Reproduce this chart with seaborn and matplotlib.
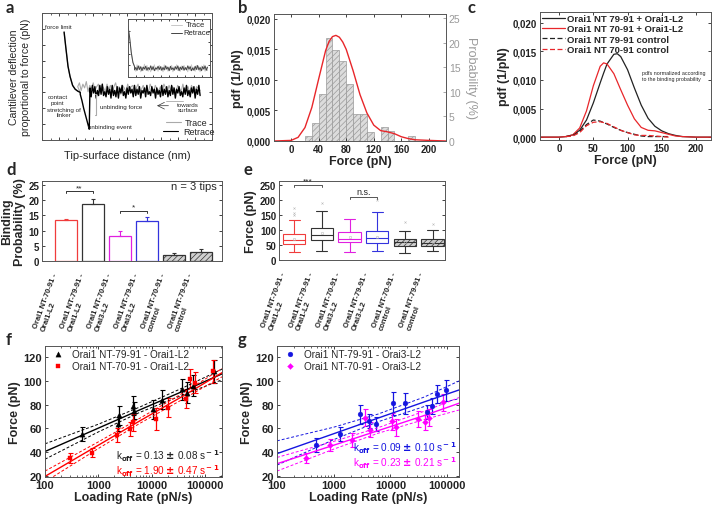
import numpy as np
import matplotlib
matplotlib.use("Agg")
import matplotlib.pyplot as plt
from matplotlib.ticker import FuncFormatter, NullFormatter, LogLocator
import seaborn as sns

sns.set_theme(style="ticks")
plt.rcParams['font.family'] = ['Liberation Sans', 'DejaVu Sans']
plt.rcParams['font.weight'] = 'bold'
plt.rcParams['axes.labelweight'] = 'bold'
plt.rcParams['hatch.linewidth'] = 0.5

# ---------------- data ----------------
# a: schematic force cycle (axis %)
a_desc_x = [13, 14, 15.3, 16.5, 18, 19.5, 21, 22.5]
a_desc_y = [85, 73, 58, 50, 43, 40, 38.5, 37.5]
a_dip_x = [22.5, 23.5, 24.5, 25.5, 26.5, 27.3, 27.8]
a_dip_y = [36, 31, 25, 20, 15, 11, 8.5]
a_base = 38
a_ret_noise = [3, -4, 5, -1, 4, -5, 1, -3, 5, -2, 6, -3, 0, -4, 4, -2, 2, -5, 5, -3, 1, -4, 4, -5,
               3, -1, 5, -3, 0, -5, 3, -2, 4, -1, 2, -4, 5, -3, 2, -2, 4, -5, 1, -1, 3, -4, 5, -2,
               0, -3, 4, -1, 2, -5, 3, -2, 1, -4, 5, -3, 2, -2, 4, -4, 1, -3, 5, -2, 3, -5, 2, -1,
               4, -3, 0, -4, 3, -2, 5, -3, 1, -4, 3, -1, 4, -5, 2, -2, 5, -3]
a_trace_noise = [2, 5, -1, 4, 1, 6, -2, 3, 0, 5, -1, 2, 4, -3, 3, 1, -2, 4, 0, 3, -3, 2, 5, -1,
                 2, -4, 3, 1, -2, 4, -1, 2, 3, -3, 1, 4, -2, 0, 3, -1, 2, -3, 4, 1, -2, 3, 0, -1,
                 2, -3, 4, 1, -2, 3, -1, 2, 0, -3, 3, 1, -2, 4, -1, 1, 2, -3, 3, 0, -2, 2, 1, -1]
ins_desc_x = [0, 2, 4, 6, 8]
ins_desc_y = [88, 68, 42, 25, 18]
ins_noise = [3, -5, 6, -2, 4, -6, 2, -4, 7, -3, 5, -5, 1, -6, 4, -2, 6, -4, 2, -5, 5, -3, 3, -6,
             6, -2, 4, -5, 1, -3, 5, -6, 3, -2, 6, -4, 2, -5, 4, -3, 5, -2, 1, -6, 4, -4, 6, -3,
             2, -5, 5, -2, 3, -6, 4, -3, 6, -5, 2, -4]

# b: histogram (probability %) and pdf fit
b_bin_left = [20, 30, 40, 50, 60, 70, 80, 90, 100, 110, 120, 130, 140, 150, 160, 170]
b_prob = [1.0, 3.6, 9.5, 21.0, 18.5, 16.3, 11.6, 5.5, 5.5, 1.8, 0.0, 2.8, 2.0, 0.0, 0.0, 1.0]
b_fit_x = [-25, 0, 10, 20, 30, 40, 50, 55, 60, 65, 70, 75, 80, 90, 100, 110, 120, 130, 140, 150,
           160, 170, 180, 200, 225]
b_fit_y = [0, 0.0001, 0.0006, 0.0022, 0.0055, 0.0102, 0.0148, 0.0163, 0.0171, 0.0173, 0.0170,
           0.0162, 0.0150, 0.0115, 0.0076, 0.0046, 0.0026, 0.0017, 0.0015, 0.0012, 0.0007, 0.0004,
           0.0002, 0.0001, 0]

# c: normalized pdfs
c_x = [-30, 0, 10, 20, 30, 40, 50, 60, 65, 70, 80, 85, 90, 100, 110, 120, 130, 140, 150, 160,
       170, 180, 200, 225]
c_79 = [0, 0, 0.0001, 0.0004, 0.0012, 0.0030, 0.0060, 0.0095, 0.0112, 0.0128, 0.0145, 0.0146,
        0.0141, 0.0118, 0.0086, 0.0056, 0.0033, 0.0019, 0.0011, 0.0006, 0.0003, 0.0001, 0, 0]
c_70 = [0, 0, 0.0001, 0.0004, 0.0016, 0.0046, 0.0090, 0.0124, 0.0130, 0.0128, 0.0111, 0.0097,
        0.0083, 0.0056, 0.0032, 0.0017, 0.0012, 0.0011, 0.0008, 0.0005, 0.0002, 0.0001, 0, 0]
c_ctrl_x = [10, 20, 30, 40, 50, 60, 70, 80, 90, 100, 110, 120, 130, 140, 150, 160]
c_79_ctrl = [0.0001, 0.0003, 0.0010, 0.0022, 0.0030, 0.0028, 0.0023, 0.0017, 0.0012, 0.0008,
             0.0005, 0.0002, 0.0001, 0.0001, 0.0001, 0.0001]
c_70_ctrl = [0.0001, 0.0002, 0.0008, 0.0020, 0.0026, 0.0027, 0.0024, 0.0018, 0.0012, 0.0008,
             0.0004, 0.0003, 0.0003, 0.0002, 0.0001, 0.0]

# d: binding probability
groups = ["Orai1 NT-70-91 -\nOrai1-L2", "Orai1 NT-79-91 -\nOrai1-L2",
          "Orai1 NT-70-91 -\nOrai3-L2", "Orai1 NT-79-91 -\nOrai3-L2",
          "Orai1 NT-70-91 -\ncontrol", "Orai1 NT-79-91 -\ncontrol"]
d_prob = [13.5, 18.7, 8.1, 13.0, 2.1, 3.0]
d_err = [0.3, 1.6, 1.6, 1.6, 0.6, 0.8]
group_colors = ['#f03c3c', '#333333', '#e020e0', '#3333dd', '#333333', '#333333']

# e: box statistics (pN)
e_whislo = [27, 29, 27, 29, 23, 31]
e_q1 = [54, 68, 60, 56, 46, 47]
e_med = [66, 85, 72, 73, 60, 57]
e_q3 = [88, 108, 94, 96, 69, 69]
e_whishi = [135, 165, 138, 160, 98, 99]
e_mean = [72, 90, 76, 78, 60, 59]
e_fliers = [[150, 158, 175], [192], [], [200], [128], [122]]

# f: dynamic force spectroscopy Orai1-L2
f_79_x = [500, 2300, 2500, 4400, 4700, 10500, 15500, 38000, 46000, 60000, 150000]
f_79_y = [55.5, 64, 71, 79, 75, 76, 84, 93, 90, 96, 108]
f_79_e = [6, 6, 8, 8, 7, 8, 8, 9, 9, 9, 10]
f_70_x = [300, 750, 2200, 3900, 4500, 12000, 20500, 45000, 52000, 65000, 140000]
f_70_y = [35, 39.5, 54.5, 59.5, 65, 68, 77.5, 85, 102, 98.5, 108]
f_70_e = [4, 4, 6, 6, 7, 9, 8, 8, 8, 9, 10]
f_fit_x = [100, 1000, 6000, 40000, 210000]
f_79_fit = [40.5, 60.2, 75.6, 91.6, 106]
f_79_lo = [34, 57, 73.5, 88.5, 101]
f_79_hi = [47, 63.5, 78, 94.5, 110]
f_70_fit = [19.5, 45.8, 66.3, 87.6, 107]
f_70_lo = [15, 43, 64.2, 85, 103.5]
f_70_hi = [24, 48.6, 68.5, 90.2, 110.5]

# g: dynamic force spectroscopy Orai3-L2
g_79_x = [480, 1290, 2870, 4150, 5560, 11200, 18200, 44700, 55000, 67700, 95000]
g_79_y = [46, 55, 72, 66, 63.5, 81, 81, 74, 79, 89, 92]
g_79_e = [6, 6, 8, 6, 6, 10, 9, 6, 7, 8, 9]
g_70_x = [325, 860, 2130, 3600, 4400, 10500, 12600, 31000, 41000, 49000, 85000]
g_70_y = [35, 46, 50, 69, 59, 66, 61, 68, 65, 69, 82]
g_70_e = [4, 5, 6, 7, 6, 7, 7, 7, 6, 7, 7]
g_fit_x = [100, 1000, 6000, 40000, 163000]
g_79_fit = [38.7, 55.5, 68.6, 82.4, 92.4]
g_79_lo = [29, 50.5, 65.5, 78.5, 85]
g_79_hi = [49.5, 61, 72, 86.5, 100]
g_70_fit = [30.2, 45.8, 58.0, 70.9, 81.2]
g_70_lo = [24, 42.5, 55.8, 67.5, 75.5]
g_70_hi = [35.5, 49, 60.5, 74.5, 86]

# ---------------- figure ----------------
W, H = 713, 506
fig = plt.figure(figsize=(W / 100, H / 100), dpi=100)


def box(l, t, r, b):
    return fig.add_axes([l / W, 1 - b / H, (r - l) / W, (b - t) / H])


def style(ax, size=7):
    ax.tick_params(direction='in', length=2.5, width=0.6, top=True, right=True,
                   labelsize=size, pad=2, colors='#222222')
    ax.tick_params(which='minor', direction='in', length=1.5, width=0.5, top=True, right=True)
    for s in ax.spines.values():
        s.set_linewidth(0.7)
        s.set_color('#555555')


comma = FuncFormatter(lambda v, p: f"{v:.3f}".replace('.', ','))


def panel_label(x, y, s):
    fig.text(x / W, 1 - y / H, s, fontsize=12, fontweight='bold', family=['Lato', 'DejaVu Sans'],
             va='top', ha='left')


# ---- a ----
ax = box(42, 14, 212, 141)
style(ax)
ax.set_xlim(0, 100)
ax.set_ylim(0, 100)
ax.set_xticks(np.arange(0, 101, 10))
ax.set_xticks(np.arange(0, 101, 5), minor=True)
ax.set_yticks(np.arange(0, 101, 12.5))
ax.xaxis.set_major_formatter(NullFormatter())
ax.yaxis.set_major_formatter(NullFormatter())
tx = np.linspace(21, 93, len(a_trace_noise))
ax.plot(a_desc_x + list(tx), a_desc_y + [a_base + 2 + v for v in a_trace_noise],
        color='#aaaaaa', lw=0.8)
rx = np.linspace(28.2, 93, len(a_ret_noise))
ax.plot(a_desc_x + a_dip_x + list(rx), a_desc_y + a_dip_y + [a_base + v for v in a_ret_noise],
        color='black', lw=1.0)
ax.plot([31, 32, 32, 31], [36, 36, 20, 20], color='#aaaaaa', lw=0.8)
ax.plot([73, 83], [30.5, 30.5], color='#aaaaaa', lw=0.6)
ax.text(1.8, 89, 'force limit', fontsize=4.5, fontweight='normal', va='center')
ax.text(15, 32, 'contact\npoint', fontsize=4.5, fontweight='normal', va='center', ha='right',
        multialignment='center')
ax.text(13, 22, 'stretching of\nlinker', fontsize=4.5, fontweight='normal', va='center',
        ha='center', multialignment='center')
ax.text(40, 11, 'unbinding event', fontsize=4.5, fontweight='normal', va='center', ha='center')
ax.text(34, 26, 'unbinding force', fontsize=4.5, fontweight='normal', va='center')
ax.text(86, 26, 'towards\nsurface', fontsize=4.5, fontweight='normal', va='center', ha='center',
        multialignment='center')
ax.annotate('', xy=(66, 27), xytext=(76, 27),
            arrowprops=dict(arrowstyle='->', lw=0.5, color='#333333'))
ax.plot([73, 82], [14, 14], color='#aaaaaa', lw=0.8)
ax.text(84, 14, 'Trace', fontsize=6.5, fontweight='normal', va='center')
ax.plot([71, 80], [7, 7], color='black', lw=0.8)
ax.text(83, 7, 'Retrace', fontsize=6.5, fontweight='normal', va='center')
ax.set_xlabel('Tip-surface distance (nm)', fontsize=8, fontweight='normal', labelpad=4)
ax.set_ylabel('Cantilever deflection\nproportional to force (pN)', fontsize=7.6,
              fontweight='normal', labelpad=6)

ins = box(128, 20, 210, 78)
style(ins)
ins.tick_params(length=1.5)
ins.set_xlim(0, 100)
ins.set_ylim(0, 100)
ins.set_xticks(np.arange(0, 101, 10))
ins.set_yticks(np.arange(0, 101, 20))
ins.xaxis.set_major_formatter(NullFormatter())
ins.yaxis.set_major_formatter(NullFormatter())
nx = np.linspace(8, 97, len(ins_noise))
ins.plot(ins_desc_x + list(nx), ins_desc_y + [15 + v for v in ins_noise], color='#c8c8c8', lw=0.7)
ins.plot(ins_desc_x + list(nx), ins_desc_y + [15 + 0.7 * v for v in ins_noise[::-1]],
         color='#444444', lw=0.7)
ins.plot([52, 66], [90, 90], color='#c8c8c8', lw=0.7)
ins.text(70, 90, 'Trace', fontsize=5.5, fontweight='normal', va='center')
ins.plot([52, 66], [76, 76], color='#444444', lw=0.7)
ins.text(68, 76, 'Retrace', fontsize=5.5, fontweight='normal', va='center')

# ---- b ----
ax = box(274, 15, 446, 142)
ax2 = ax.twinx()
style(ax)
ax.tick_params(right=False)
ax2.bar(b_bin_left, b_prob, width=10, align='edge', facecolor='#dcdcdc',
        edgecolor='#9a9a9a', hatch='//////', lw=0.5)
sns.lineplot(x=b_fit_x, y=b_fit_y, ax=ax, color='#e8262a', lw=1.0)
ax.set_zorder(ax2.get_zorder() + 1)
ax.patch.set_visible(False)
ax.set_xlim(-25, 225)
ax.set_ylim(0, 0.0208)
ax2.set_ylim(0, 25.8)
ax.set_xticks(np.arange(0, 201, 40))
ax.set_yticks([0, 0.005, 0.01, 0.015, 0.02])
ax.yaxis.set_major_formatter(comma)
ax2.set_yticks(np.arange(0, 26, 5))
ax2.tick_params(direction='in', length=2.5, width=0.6, labelsize=7.5, colors='#999999', pad=2)
for lab in ax2.get_yticklabels():
    lab.set_fontweight('normal')
for s in ax2.spines.values():
    s.set_visible(False)
ax.set_xlabel('Force (pN)', fontsize=9, labelpad=1)
ax.set_ylabel('pdf (1/pN)', fontsize=9, labelpad=2)
ax2.set_ylabel('Probability (%)', fontsize=9, fontweight='normal', color='#999999',
               rotation=270, labelpad=12)

# ---- c ----
ax = box(540, 13, 711, 141)
style(ax)
sns.lineplot(x=c_x, y=c_79, ax=ax, color='#222222', lw=0.9, label='Orai1 NT 79-91 + Orai1-L2')
sns.lineplot(x=c_x, y=c_70, ax=ax, color='#e8262a', lw=0.9, label='Orai1 NT 70-91 + Orai1-L2')
ax.plot(c_ctrl_x, c_79_ctrl, color='#222222', lw=0.9, ls=(0, (4, 2)),
        label='Orai1 NT 79-91 control')
ax.plot(c_ctrl_x, c_70_ctrl, color='#e8262a', lw=0.9, ls=(0, (4, 2)),
        label='Orai1 NT 70-91 control')
ax.set_xlim(-28, 222)
ax.set_ylim(-0.0005, 0.0219)
ax.set_xticks(np.arange(0, 201, 50))
ax.set_yticks([0, 0.005, 0.01, 0.015, 0.02])
ax.yaxis.set_major_formatter(comma)
ax.legend(loc='upper left', frameon=False, fontsize=6.8, handlelength=2.4, handletextpad=0.3,
          labelspacing=0.15, borderaxespad=0.1, borderpad=0.1)
ax.text(121, 0.0108, 'pdfs normalized according\nto the binding probability', fontsize=3.9,
        fontweight='normal', va='center')
ax.set_xlabel('Force (pN)', fontsize=9, labelpad=1)
ax.set_ylabel('pdf (1/pN)', fontsize=9, labelpad=2)

# ---- d ----
ax = box(42, 182, 222, 262)
style(ax)
pos = np.arange(len(groups))
for i in pos:
    hatched = i >= 4
    ax.bar(i, d_prob[i], width=0.8, facecolor='#d0d0d0' if hatched else 'white',
           edgecolor=group_colors[i], hatch='//////' if hatched else None, lw=0.9)
    ax.errorbar(i, d_prob[i], yerr=[[0], [d_err[i]]], color=group_colors[i], capsize=1.5,
                lw=0.8, capthick=0.8)
ax.plot([0, 0, 1, 1], [22.3, 22.9, 22.9, 22.3], color='#333333', lw=0.7)
ax.text(0.5, 23.0, '**', ha='center', va='bottom', fontsize=6, fontweight='normal')
ax.plot([2, 2, 3, 3], [15.8, 16.4, 16.4, 15.8], color='#333333', lw=0.7)
ax.text(2.5, 16.5, '*', ha='center', va='bottom', fontsize=6, fontweight='normal')
ax.text(5.6, 24.5, 'n = 3 tips', ha='right', va='center', fontsize=8, fontweight='normal')
ax.set_xlim(-0.89, 5.78)
ax.set_ylim(0, 26.3)
ax.set_yticks(np.arange(0, 26, 5))
ax.set_xticks(pos)
ax.set_xticklabels(groups, rotation=70, ha='right', va='top', fontsize=5.5, multialignment='left')
ax.tick_params(axis='x', length=0, pad=8)
ax.set_ylabel('Binding\nProbability (%)', fontsize=9, labelpad=2, linespacing=1.0)

# ---- e ----
ax = box(279, 182, 445, 261)
style(ax)
stats = [dict(whislo=e_whislo[i], q1=e_q1[i], med=e_med[i], q3=e_q3[i], whishi=e_whishi[i],
              mean=e_mean[i], fliers=e_fliers[i]) for i in range(len(groups))]
bp = ax.bxp(stats, positions=pos, widths=0.8, patch_artist=True, showmeans=True,
            meanprops=dict(marker='s', markersize=1.5, markerfacecolor='none',
                           markeredgecolor='#bbbbbb', markeredgewidth=0.4),
            flierprops=dict(marker='x', markersize=1.5, markeredgewidth=0.4,
                            markeredgecolor='#bbbbbb'))
for i in pos:
    c = group_colors[i]
    bp['boxes'][i].set(facecolor='#d0d0d0' if i >= 4 else 'white', edgecolor=c, lw=0.8,
                       hatch='//////' if i >= 4 else None)
    bp['medians'][i].set(color=c, lw=0.8)
    for k in (2 * i, 2 * i + 1):
        bp['whiskers'][k].set(color=c, lw=0.8)
        bp['caps'][k].set(color=c, lw=0.8)
ax.plot([0, 0, 1, 1], [245, 251, 251, 245], color='#555555', lw=0.7)
ax.text(0.5, 252, '***', ha='center', va='bottom', fontsize=6, fontweight='normal')
ax.plot([2, 2, 3, 3], [206, 212, 212, 206], color='#555555', lw=0.7)
ax.text(2.5, 214, 'n.s.', ha='center', va='bottom', fontsize=6.5, fontweight='normal')
ax.set_xlim(-0.55, 5.45)
ax.set_ylim(0, 265)
ax.set_yticks(np.arange(0, 251, 50))
ax.set_xticks(pos)
ax.set_xticklabels(groups, rotation=70, ha='right', va='top', fontsize=5.5, multialignment='left')
ax.tick_params(axis='x', length=0, pad=8)
ax.set_ylabel('Force (pN)', fontsize=9, labelpad=2)


# ---- f / g ----
def dfs(ax, sets, fits, xmax, texts):
    style(ax)
    ax.set_xscale('log')
    for x, y, e, c, m, ms, lab in sets:
        ax.errorbar(x, y, yerr=e, fmt='none', ecolor=c, elinewidth=0.9, capsize=1.8,
                    capthick=0.8)
        sns.scatterplot(x=x, y=y, ax=ax, color=c, marker=m, s=ms, edgecolor=c, label=lab,
                        zorder=3)
    for fx, mid, lo, hi, c in fits:
        ax.plot(fx, mid, color=c, lw=1.0)
        ax.plot(fx, lo, color=c, lw=0.7, ls=(0, (3, 2)))
        ax.plot(fx, hi, color=c, lw=0.7, ls=(0, (3, 2)))
    ax.set_xlim(100, xmax)
    ax.set_ylim(19, 129.5)
    ax.set_yticks(np.arange(20, 121, 20))
    ax.set_xticks([100, 1000, 10000, 100000])
    ax.set_xticklabels(['100', '1000', '10000', '100000'])
    ax.xaxis.set_minor_locator(LogLocator(base=10, subs=np.arange(2, 10)))
    ax.xaxis.set_minor_formatter(NullFormatter())
    ax.tick_params(labelsize=8)
    leg = ax.legend(loc='upper left', frameon=False, fontsize=7.2, handletextpad=0.4,
                    labelspacing=0.2, borderaxespad=0.2, borderpad=0.1, markerscale=1.0)
    for t in leg.get_texts():
        t.set_fontweight('normal')
    for (tx, ty, s, c) in texts:
        ax.text(tx, ty, s, color=c, fontsize=7.2, fontweight='normal', transform=ax.transAxes,
                ha='right', va='center')
    ax.set_xlabel('Loading Rate (pN/s)', fontsize=9, labelpad=1)
    ax.set_ylabel('Force (pN)', fontsize=9, labelpad=2)


ax = box(45, 347, 222, 478)
dfs(ax,
    [(f_79_x, f_79_y, f_79_e, 'black', '^', 14, 'Orai1 NT-79-91 - Orai1-L2'),
     (f_70_x, f_70_y, f_70_e, '#ff0000', 's', 12, 'Orai1 NT-70-91 - Orai1-L2')],
    [(f_fit_x, f_79_fit, f_79_lo, f_79_hi, 'black'),
     (f_fit_x, f_70_fit, f_70_lo, f_70_hi, '#ff0000')],
    2.1e5,
    [(0.985, 0.165, r'k$_{\rm off}$ = 0.13 $\pm$ 0.08 s$^{\rm -1}$', '#222222'),
     (0.985, 0.055, r'k$_{\rm off}$ = 1.90 $\pm$ 0.47 s$^{\rm -1}$', '#ff0000')])

ax = box(277, 347, 459, 478)
dfs(ax,
    [(g_79_x, g_79_y, g_79_e, '#1515e0', 'o', 12, 'Orai1 NT-79-91 - Orai3-L2'),
     (g_70_x, g_70_y, g_70_e, '#ff00ff', 'D', 9, 'Orai1 NT-70-91 - Orai3-L2')],
    [(g_fit_x, g_79_fit, g_79_lo, g_79_hi, '#1515e0'),
     (g_fit_x, g_70_fit, g_70_lo, g_70_hi, '#ff00ff')],
    1.63e5,
    [(0.985, 0.23, r'k$_{\rm off}$ = 0.09 $\pm$ 0.10 s$^{\rm -1}$', '#1515e0'),
     (0.985, 0.115, r'k$_{\rm off}$ = 0.23 $\pm$ 0.21 s$^{\rm -1}$', '#ff00ff')])

panel_label(6, 0, 'a')
panel_label(238, 0, 'b')
panel_label(468, 0, 'c')
panel_label(6, 162, 'd')
panel_label(244, 162, 'e')
panel_label(6, 332, 'f')
panel_label(238, 332, 'g')

fig.savefig('out.png', dpi=100)
